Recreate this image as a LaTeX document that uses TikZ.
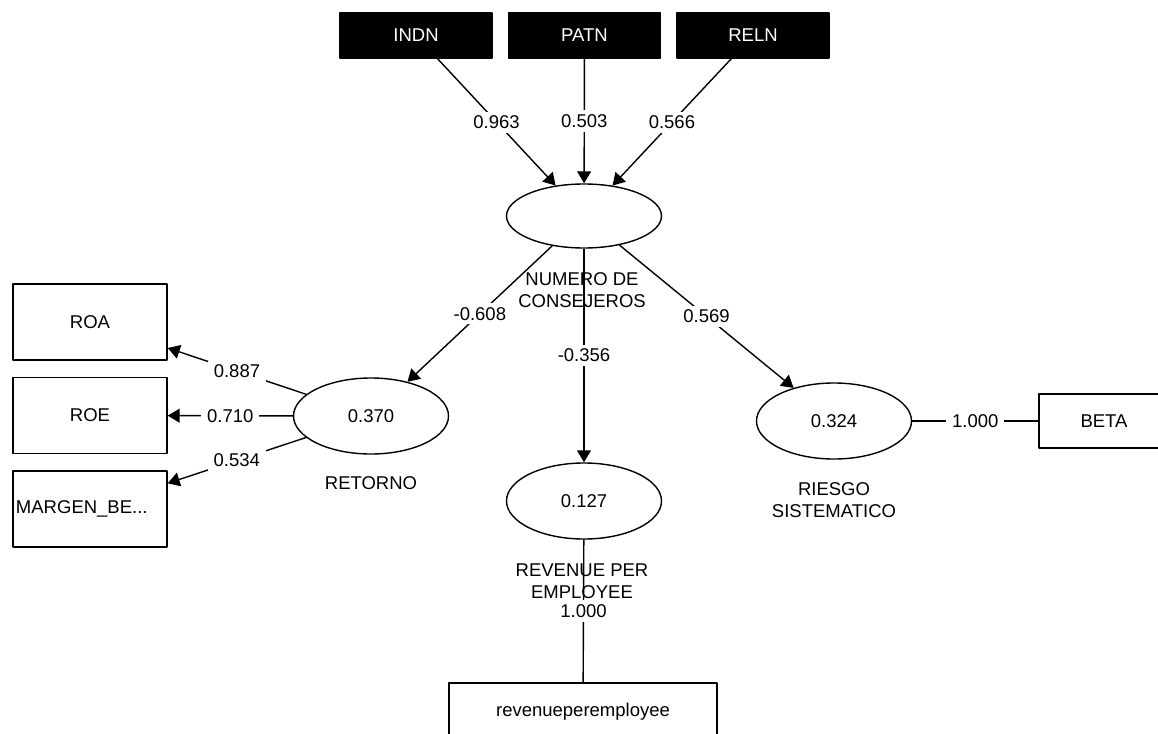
\documentclass[tikz,border=0pt]{standalone}
\usepackage{fontspec}
\setmainfont{Liberation Sans}
\usetikzlibrary{shapes.geometric,arrows.meta}
\begin{document}
\begin{tikzpicture}[x=1pt, y=-1pt, font=\fontsize{18.5}{22}\selectfont, line join=round, line width=1.4pt,
		>={Triangle[length=12pt,width=14pt]},
		latent/.style={draw, ellipse, minimum width=155pt, minimum height=76pt, inner sep=0pt},
		indicator/.style={draw, rectangle, minimum width=154pt, minimum height=76pt, inner sep=0pt},
		formative/.style={draw, fill=black, text=white, minimum width=152pt, minimum height=45pt, inner sep=0pt},
		caption/.style={align=center, inner sep=0pt},
		weight/.style={fill=white, inner xsep=6pt, inner ysep=4pt, midway}]
	\useasboundingbox (0,0) rectangle (1158,733);
	\node[formative] (indn) at (416,35.5) {INDN};
	\node[formative] (patn) at (584.5,35.5) {PATN};
	\node[formative] (reln) at (753,35.5) {RELN};
	\node[latent, minimum height=64pt] (nume) at (584,216) {};
	\node[latent] (reto) at (371,416) {0.370};
	\node[latent] (reve) at (584,501) {0.127};
	\node[latent] (ries) at (834,421) {0.324};
	\node[indicator] (roa) at (90,322) {ROA};
	\node[indicator] (roe) at (90,415.5) {ROE};
	\node[indicator, align=left, text width=148pt, inner xsep=3pt] (marg) at (90,509) {MARGEN\_BE...};
	\node[draw, minimum width=130pt, minimum height=54pt, inner sep=0pt] (beta) at (1104,421) {BETA};
	\node[draw, minimum width=268pt, minimum height=58pt, inner sep=0pt] (rpe) at (583,712) {revenueperemployee};
	\node[caption] (numelbl) at (582,290) {NUMERO DE\\CONSEJEROS};
	\node[caption] (retolbl) at (371,483) {RETORNO};
	\node[caption] (revelbl) at (582,581) {REVENUE PER\\EMPLOYEE};
	\node[caption] (rieslbl) at (834,500) {RIESGO\\SISTEMATICO};
	\draw[->] (indn) -- node[weight] {0.963} (nume);
	\draw[->] (patn) -- node[weight] {0.503} (nume);
	\draw[->] (reln) -- node[weight] {0.566} (nume);
	\draw[->] (nume) -- node[weight] {-0.608} (reto);
	\draw[->] (nume) -- node[weight] {-0.356} (reve);
	\draw[->] (nume) -- node[weight] {0.569} (ries);
	\draw[->] (reto) -- node[weight] {0.887} (roa);
	\draw[->] (reto) -- node[weight] {0.710} (roe);
	\draw[->] (reto) -- node[weight] {0.534} (marg);
	\draw (ries) -- node[weight] {1.000} (beta);
	\draw (reve) -- node[weight] {1.000} (rpe);
\end{tikzpicture}
\end{document}
